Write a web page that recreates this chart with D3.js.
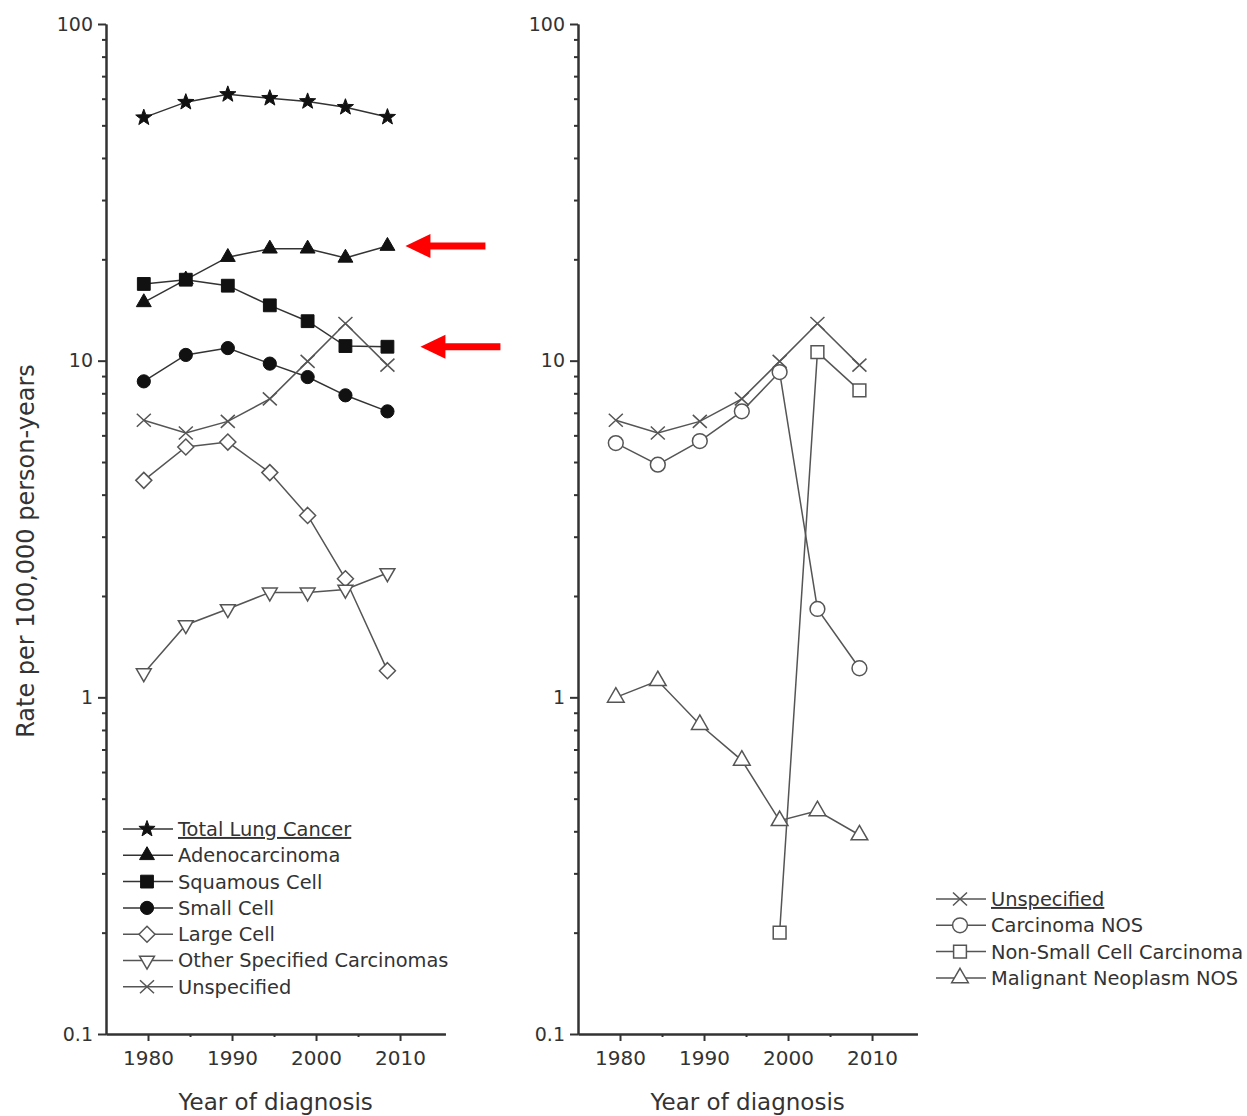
<html>
<head>
    <title>Lung cancer incidence by histology</title>
    <script src="https://d3js.org/d3.v7.min.js"></script>
    <style>
        body { margin: 0; background: #fff; }
        text { font-family: "DejaVu Sans", sans-serif; fill: #333; }
    </style>
</head>
<body>
<script>

// ---- data ----
var years = [1979.5, 1984.5, 1989.5, 1994.5, 1999, 2003.5, 2008.5];

var totalLung   = [52.7, 58.6, 61.8, 60.2, 58.9, 56.6, 52.9];
var adeno       = [14.9, 17.4, 20.3, 21.5, 21.5, 20.2, 21.9];
var squamous    = [16.9, 17.4, 16.7, 14.6, 13.1, 11.05, 11.0];
var smallCell   = [8.68, 10.4, 10.9, 9.8, 8.94, 7.89, 7.07];
var largeCell   = [4.41, 5.54, 5.73, 4.65, 3.47, 2.25, 1.20];
var otherSpec   = [1.18, 1.64, 1.83, 2.05, 2.05, 2.09, 2.34];
var unspecified = [6.65, 6.1, 6.6, 7.7, 9.95, 12.9, 9.7];

var carcinomaNOS = [5.69, 4.91, 5.77, 7.07, 9.25, 1.83, 1.22];
var nsccYears    = [1999, 2003.5, 2008.5];
var nscc         = [0.2, 10.6, 8.16];
var malignantNOS = [1.0, 1.12, 0.83, 0.65, 0.43, 0.46, 0.39];

var yMajorTicks = [0.1, 1, 10, 100];
var xMajorTicks = [1980, 1990, 2000, 2010];
var xMinorTicks = [1985, 1995, 2005];

var leftSeries = [
  {name: "Total Lung Cancer", x: years, y: totalLung, shape: "star", filled: true, underline: true},
  {name: "Adenocarcinoma", x: years, y: adeno, shape: "triangle", filled: true},
  {name: "Squamous Cell", x: years, y: squamous, shape: "square", filled: true},
  {name: "Small Cell", x: years, y: smallCell, shape: "circle", filled: true},
  {name: "Large Cell", x: years, y: largeCell, shape: "diamond", filled: false},
  {name: "Other Specified Carcinomas", x: years, y: otherSpec, shape: "down", filled: false},
  {name: "Unspecified", x: years, y: unspecified, shape: "times", filled: false}
];
var rightSeries = [
  {name: "Unspecified", x: years, y: unspecified, shape: "times", filled: false, underline: true},
  {name: "Carcinoma NOS", x: years, y: carcinomaNOS, shape: "circle", filled: false, big: true},
  {name: "Non-Small Cell Carcinoma", x: nsccYears, y: nscc, shape: "square", filled: false},
  {name: "Malignant Neoplasm NOS", x: years, y: malignantNOS, shape: "triangle", filled: false, big: true}
];
// red arrows pointing at the last point of these series
var arrowSeries = ["Adenocarcinoma", "Squamous Cell"];
var arrowGap = [18, 33];

// ---- marker shapes ----
function markerPath(shape, big) {
  var k = big ? 1.12 : 1;
  var p = d3.path();
  if (shape == "circle") { p.arc(0, 0, 6.6 * k, 0, 2 * Math.PI); }
  if (shape == "square") { var h = 6.4 * k; p.rect(-h, -h, 2 * h, 2 * h); }
  if (shape == "diamond") { p.moveTo(0, -8); p.lineTo(8, 0); p.lineTo(0, 8); p.lineTo(-8, 0); p.closePath(); }
  if (shape == "triangle" || shape == "down") {
    var r = 8.6 * k, s = shape == "down" ? -1 : 1;
    p.moveTo(0, -r * s); p.lineTo(r * 0.866, r * 0.5 * s); p.lineTo(-r * 0.866, r * 0.5 * s); p.closePath();
  }
  if (shape == "star") {
    for (var i = 0; i < 10; i++) {
      var rr = i % 2 == 0 ? 8.5 : 3.5;
      var a = i * Math.PI / 5;
      if (i == 0) p.moveTo(rr * Math.sin(a), -rr * Math.cos(a));
      else p.lineTo(rr * Math.sin(a), -rr * Math.cos(a));
    }
    p.closePath();
  }
  if (shape == "times") { p.moveTo(-7, -6.5); p.lineTo(7, 6.5); p.moveTo(7, -6.5); p.lineTo(-7, 6.5); }
  return p.toString();
}

function drawMarker(g, s, cx, cy) {
  g.append("path")
    .attr("d", markerPath(s.shape, s.big))
    .attr("transform", "translate(" + cx + "," + cy + ")")
    .attr("fill", s.shape == "times" ? "none" : (s.filled ? "#111" : "#fff"))
    .attr("stroke", s.filled ? "#111" : "#555")
    .attr("stroke-width", s.filled ? 1 : 1.5);
}

// ---- svg ----
var width = 1247, height = 1116;
var svg = d3.select("body").append("svg")
            .attr("width", width)
            .attr("height", height);
svg.append("rect").attr("width", width).attr("height", height).attr("fill", "#fff");

var yTop = 24, yBottom = 1034;

function createPanel(x0, x1, series, legendX, legendY, showYTitle) {
  var x = d3.scaleLinear().domain([1975, 2015.4]).range([x0, x1]);
  var y = d3.scaleLog().domain([0.1, 100]).range([yBottom, yTop]);
  var g = svg.append("g");

  // minor log ticks
  var yMinor = [];
  [0.1, 1, 10].forEach(function(d) { for (var m = 2; m <= 9; m++) yMinor.push(d * m); });

  var yAxisMinor = g.append("g").attr("transform", "translate(" + x0 + ",0)")
      .call(d3.axisLeft(y).tickValues(yMinor).tickSize(4).tickSizeOuter(0).tickFormat(""));
  var yAxis = g.append("g").attr("transform", "translate(" + x0 + ",0)")
      .call(d3.axisLeft(y).tickValues(yMajorTicks).tickSize(8).tickSizeOuter(0).tickPadding(5)
            .tickFormat(d3.format("~g")));
  var xAxisMinor = g.append("g").attr("transform", "translate(0," + yBottom + ")")
      .call(d3.axisBottom(x).tickValues(xMinorTicks).tickSize(3).tickSizeOuter(0).tickFormat(""));
  var xAxis = g.append("g").attr("transform", "translate(0," + yBottom + ")")
      .call(d3.axisBottom(x).tickValues(xMajorTicks).tickSize(7).tickSizeOuter(0).tickPadding(10)
            .tickFormat(d3.format("d")));

  [yAxisMinor, yAxis, xAxisMinor, xAxis].forEach(function(a) {
    a.attr("font-size", null);
    a.selectAll("path, line").attr("stroke", "#333").attr("stroke-width", 2);
    a.selectAll("text").style("font-size", "20px").attr("fill", "#333");
  });
  yAxis.selectAll("text").style("font-size", "19px");

  g.append("text").text("Year of diagnosis")
    .attr("x", (x0 + x1) / 2).attr("y", 1110)
    .attr("text-anchor", "middle").style("font-size", "23px");

  if (showYTitle) {
    g.append("text").text("Rate per 100,000 person-years")
      .attr("transform", "translate(26," + 551 + ") rotate(-90)")
      .attr("dy", "0.35em")
      .attr("text-anchor", "middle").style("font-size", "24px");
  }

  var line = d3.line().x(function(d) { return x(d[0]); }).y(function(d) { return y(d[1]); });

  series.forEach(function(s) {
    var pts = s.x.map(function(d, i) { return [d, s.y[i]]; });
    g.append("path").datum(pts).attr("d", line)
      .attr("fill", "none")
      .attr("stroke", s.filled ? "#333" : "#555")
      .attr("stroke-width", 1.5);
    pts.forEach(function(d) { drawMarker(g, s, x(d[0]), y(d[1])); });
  });

  // legend
  series.forEach(function(s, i) {
    var ly = legendY + i * 26.3;
    g.append("line").attr("x1", legendX).attr("x2", legendX + 50)
      .attr("y1", ly).attr("y2", ly)
      .attr("stroke", s.filled ? "#333" : "#555").attr("stroke-width", 1.5);
    drawMarker(g, s, legendX + 24, ly);
    g.append("text").text(s.name)
      .attr("x", legendX + 55).attr("y", ly).attr("dy", "0.36em")
      .style("font-size", "19.4px")
      .style("text-decoration", s.underline ? "underline" : "none");
  });

  return {g: g, x: x, y: y};
}

var left = createPanel(106, 445.4, leftSeries, 123, 829, true);
var right = createPanel(578, 917.4, rightSeries, 936, 899, false);

// red arrows
arrowSeries.forEach(function(name, i) {
  var s = leftSeries.filter(function(d) { return d.name == name; })[0];
  var n = s.x.length - 1;
  var tx = left.x(s.x[n]) + arrowGap[i];
  var ty = left.y(s.y[n]);
  var p = d3.path();
  p.moveTo(tx, ty);
  p.lineTo(tx + 25, ty - 12);
  p.lineTo(tx + 25, ty - 3.5);
  p.lineTo(tx + 80, ty - 3.5);
  p.lineTo(tx + 80, ty + 3.5);
  p.lineTo(tx + 25, ty + 3.5);
  p.lineTo(tx + 25, ty + 12);
  p.closePath();
  left.g.append("path").attr("d", p.toString()).attr("fill", "#ff0000");
});

</script>
</body>
</html>
